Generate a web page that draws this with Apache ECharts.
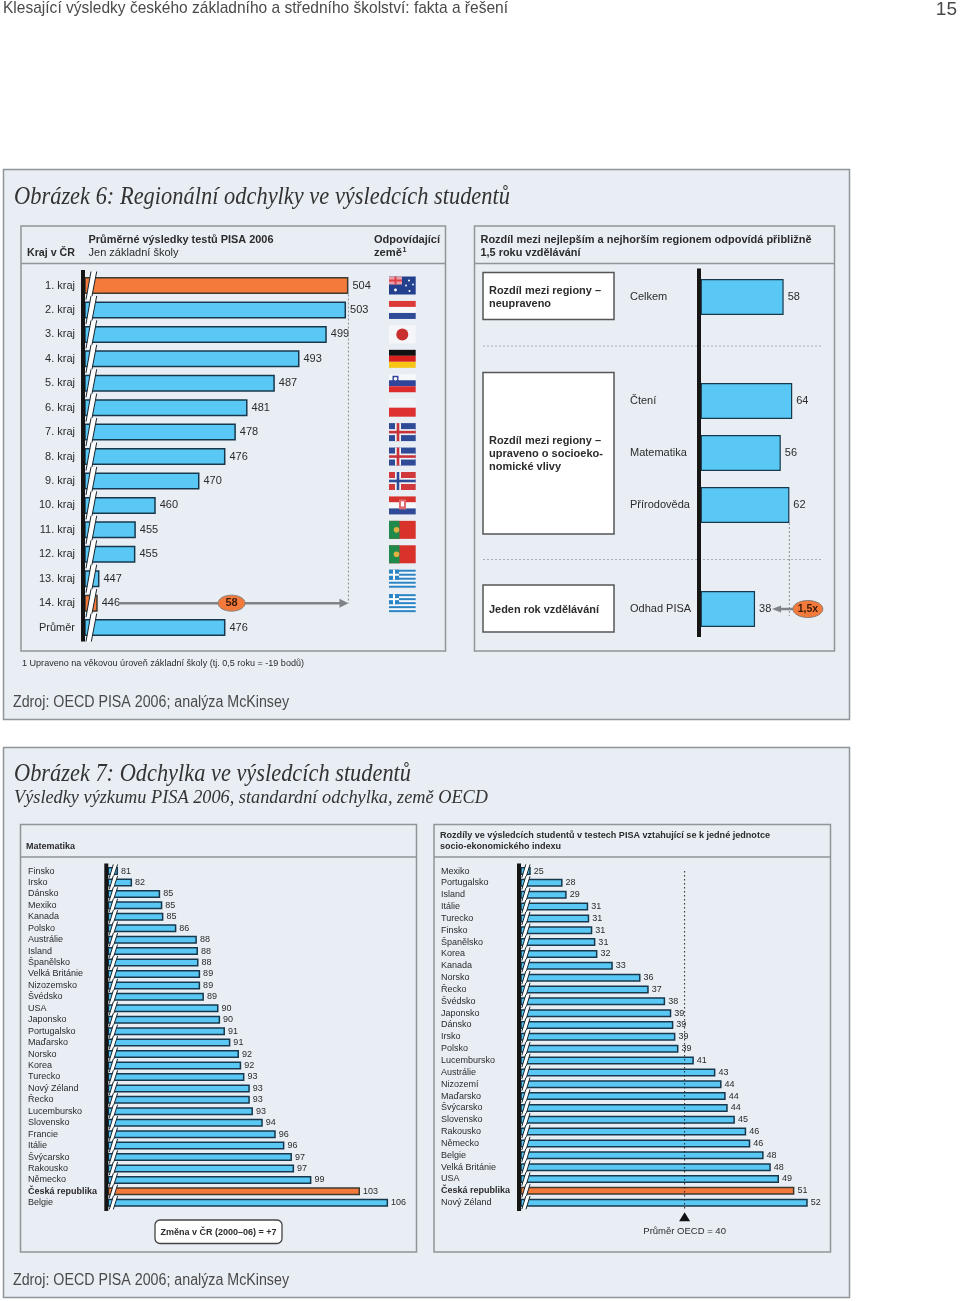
<!DOCTYPE html>
<html><head><meta charset="utf-8">
<style>html,body{margin:0;padding:0;background:#fff}#c{width:960px;height:1301px}</style>
<script src="https://cdn.jsdelivr.net/npm/echarts@6/dist/echarts.min.js"></script>
</head><body><div id="c"></div>
<script>
// ---- data ----
const regions = ['1. kraj','2. kraj','3. kraj','4. kraj','5. kraj','6. kraj','7. kraj','8. kraj','9. kraj','10. kraj','11. kraj','12. kraj','13. kraj','14. kraj','Průměr'];
const regionScores = [504,503.45,499,492.7,487,480.7,478,475.6,469.6,459.5,454.9,454.8,446.5,446.1,475.6];
const regionHighlights = ['1. kraj','14. kraj'];
const regionFlags = ['AU','NL','JP','DE','SI','PL','IS','IS','NO','HR','PT','PT','GR','GR',''];
const gapFrom = 446.1, gapTo = 504, gapLabel = '58';

const diffCats = ['Celkem',' ','Čtení','Matematika','Přírodověda','  ','Odhad PISA'];
const diffValues = [58,null,64,56,62,null,38];

const mathCats = ['Finsko','Irsko','Dánsko','Mexiko','Kanada','Polsko','Austrálie','Island','Španělsko','Velká Británie','Nizozemsko','Švédsko','USA','Japonsko','Portugalsko','Maďarsko','Norsko','Korea','Turecko','Nový Zéland','Řecko','Lucembursko','Slovensko','Francie','Itálie','Švýcarsko','Rakousko','Německo','Česká republika','Belgie'];
const mathValues = [81,82.3,84.9,85.1,85.2,86.4,88.3,88.4,88.45,88.6,88.6,88.95,90.3,90.45,90.9,91.4,92.2,92.4,92.7,93.2,93.2,93.49,94.4,95.6,96.4,97.1,97.3,98.9,103.4,106];

const socioCats = ['Mexiko','Portugalsko','Island','Itálie','Turecko','Finsko','Španělsko','Korea','Kanada','Norsko','Řecko','Švédsko','Japonsko','Dánsko','Irsko','Polsko','Lucembursko','Austrálie','Nizozemí','Maďarsko','Švýcarsko','Slovensko','Rakousko','Německo','Belgie','Velká Británie','USA','Česká republika','Nový Zéland'];
const socioValues = [25,28.1,28.5,30.6,30.7,31,31.3,31.5,33,35.7,36.5,38.1,38.7,38.9,39.1,39.4,40.9,43,43.6,44,44.2,44.9,46,46.4,47.7,48.4,49.2,50.7,52];
const oecdAverage = 40;
const boldCountry = 'Česká republika';

// ---- style ----
const BLUE='#5ac8f5', ORANGE='#f47a3c', EDGE='#17384c', DARK='#2b2b2b', PANEL='#e9eef4', FRAME='#8f9598', SANS='"Liberation Sans",Arial,sans-serif', SERIF='"Liberation Serif",serif';

const mc=document.createElement('canvas').getContext('2d');
function t(text,x,y,size,o){o=o||{};
  const font=(o.italic?'italic ':'')+(o.bold?'bold ':'')+size+'px '+(o.family||SANS);
  let sx=1; if(o.w){mc.font=font;sx=o.w/mc.measureText(text).width;}
  return {type:'text',x:x,y:y,scaleX:sx,z:5,silent:true,style:{text:text,font:font,fill:o.fill||DARK,textAlign:o.align||'left',textVerticalAlign:'middle',textBaseline:'middle'}};
}
function r(x,y,w,h,fill,stroke,lw,z,rad){return {type:'rect',z:z||1,silent:true,shape:{x:x,y:y,width:w,height:h,r:rad||0},style:{fill:fill,stroke:stroke||null,lineWidth:lw||0}};}
function l(x1,y1,x2,y2,stroke,lw,dash,z){return {type:'line',z:z||2,silent:true,shape:{x1:x1,y1:y1,x2:x2,y2:y2},style:{stroke:stroke,lineWidth:lw,lineDash:dash||null}};}

const elements=[
  t('Klesající výsledky českého základního a středního školství: fakta a řešení',3,8.5,17,{fill:'#4a4a4a',w:505}),
  t('15',957,10,19,{fill:'#4a4a4a',align:'right'}),
  // panel 6
  r(3.5,169.5,846,550,PANEL,FRAME,1.5,0),
  t('Obrázek 6: Regionální odchylky ve výsledcích studentů',14,197,25,{italic:true,family:SERIF,fill:'#333',w:496}),
  r(21,226,424.5,425,PANEL,FRAME,1.5,0), l(21,263.5,445.5,263.5,FRAME,1.5),
  r(474.5,226,360,425,PANEL,FRAME,1.5,0), l(474.5,263.5,834.5,263.5,FRAME,1.5),
  t('Kraj v ČR',27,252.5,11,{bold:true,w:48}),
  t('Průměrné výsledky testů PISA 2006',88.5,239.5,11,{bold:true,w:185}),
  t('Jen základní školy',88.5,252.5,11,{w:90}),
  t('Odpovídající',374,239.5,11,{bold:true,w:66}),
  t('země',374,252.5,11,{bold:true,w:28}),
  t('1',402.5,250.5,7,{bold:true}),
  t('Rozdíl mezi nejlepším a nejhorším regionem odpovídá přibližně',480.5,239.5,11,{bold:true,w:331}),
  t('1,5 roku vzdělávání',480.5,252.5,11,{bold:true,w:100}),
  r(483,272.5,131,47,'#fff','#555',1.5,1),
  r(483,372.5,131,161.5,'#fff','#555',1.5,1),
  r(483,585,131,47,'#fff','#555',1.5,1),
  t('Rozdíl mezi regiony –',489,290.5,11,{bold:true,w:112}),
  t('neupraveno',489,303.5,11,{bold:true,w:62}),
  t('Rozdíl mezi regiony –',489,441,11,{bold:true,w:112}),
  t('upraveno o socioeko-',489,454,11,{bold:true,w:114}),
  t('nomické vlivy',489,467,11,{bold:true,w:72}),
  t('Jeden rok vzdělávání',489,609.5,11,{bold:true,w:110}),
  l(483,346,822,346,'#a8aeb2',1,[2,2]),
  l(483,559.5,822,559.5,'#a8aeb2',1,[2,2]),
  t('1 Upraveno na věkovou úroveň základní školy (tj. 0,5 roku = -19 bodů)',22,663.5,9,{w:282}),
  t('Zdroj: OECD PISA 2006; analýza McKinsey',13,703,16,{fill:'#4a4a4a',w:276}),
  // panel 7
  r(3.5,747.5,846,550,PANEL,FRAME,1.5,0),
  t('Obrázek 7: Odchylka ve výsledcích studentů',14,774.5,25,{italic:true,family:SERIF,fill:'#333',w:397}),
  t('Výsledky výzkumu PISA 2006, standardní odchylka, země OECD',14,798,19,{italic:true,family:SERIF,fill:'#333',w:474}),
  r(20.5,824.5,396,427.5,PANEL,FRAME,1.5,0), l(20.5,857,416.5,857,FRAME,1.5),
  r(434,824.5,396.5,427.5,PANEL,FRAME,1.5,0), l(434,857,830.5,857,FRAME,1.5),
  t('Matematika',26,847,9,{bold:true,w:49}),
  t('Rozdíly ve výsledcích studentů v testech PISA vztahující se k jedné jednotce',440,836,9,{bold:true,w:330}),
  t('socio-ekonomického indexu',440,847,9,{bold:true,w:121}),
  r(155,1220,127,23.5,'#fff','#444',1.3,1,5),
  t('Změna v ČR (2000–06) = +7',218.5,1232.5,9,{bold:true,align:'center'}),
  t('Zdroj: OECD PISA 2006; analýza McKinsey',13,1281,16,{fill:'#4a4a4a',w:276}),
  // black axis lines
  r(81,270,4,371.5,'#151515',null,0,50),
  r(697,268.5,4,368.5,'#151515',null,0,50),
  r(104.3,863.5,4,347.5,'#151515',null,0,50),
  r(517,863.5,4,347.5,'#151515',null,0,50)
];

// ---- helpers for series ----
function bars(idx,vals,cats,hl,barWidth,fs,dist,lw){
  return {type:'bar',xAxisIndex:idx,yAxisIndex:idx,barWidth:barWidth,z:2,
    data:vals.map((v,i)=>v==null?null:({value:v,itemStyle:{color:hl.includes(cats[i])?ORANGE:BLUE,borderColor:hl.includes(cats[i])?'#3d3a30':EDGE,borderWidth:lw}})),
    label:{show:true,position:'right',distance:dist,fontFamily:SANS,fontSize:fs,color:DARK,formatter:p=>String(Math.round(p.value))}};
}
function breaks(idx,cats,g){
  return {type:'custom',xAxisIndex:idx,yAxisIndex:idx,z:3,silent:true,clip:false,encode:{x:0,y:1},
    data:cats.map((c,i)=>[0,i]),
    renderItem:(p,api)=>{
      const cs=p.coordSys, yc=api.coord([0,api.value(1)])[1], x=cs.x;
      const a=[x+g[0],yc+g[4]], b=[x+g[1],yc-g[4]], c2=[x+g[3],yc-g[4]], d=[x+g[2],yc+g[4]];
      const st={stroke:'#17242c',lineWidth:1};
      return {type:'group',children:[
        {type:'polygon',shape:{points:[a,b,c2,d]},style:{fill:'#fff',stroke:null}},
        {type:'line',shape:{x1:a[0],y1:a[1],x2:b[0],y2:b[1]},style:st},
        {type:'line',shape:{x1:d[0],y1:d[1],x2:c2[0],y2:c2[1]},style:st}]};
    }};
}
function flagShapes(code){
  const W=26.7,H=18,T=-9;
  const R=(x,y,w,h,c)=>({type:'rect',shape:{x:x,y:T+y,width:w,height:h},style:{fill:c}});
  const C=(x,y,rr,c)=>({type:'circle',shape:{cx:x,cy:T+y,r:rr},style:{fill:c}});
  const red='#d8322f',blue='#2f4a96',white='#f6f8fb';
  switch(code){
    case 'AU':return [R(0,0,W,H,'#23408e'),R(0,0,13,8,'#e8a0a8'),R(0,3,13,2,'#e0404a'),R(5.5,0,2,8,'#e0404a'),C(6.5,13.5,1.4,'#fff'),C(20,4,1,'#fff'),C(24,8,.9,'#fff'),C(17,9,.9,'#fff'),C(20.5,14.5,1,'#fff')];
    case 'NL':return [R(0,0,W,6,'#dc3a36'),R(0,6,W,6,white),R(0,12,W,6,blue)];
    case 'JP':return [R(0,0,W,H,'#f4f6f9'),C(13.3,9,6,'#c8302f')];
    case 'DE':return [R(0,0,W,6,'#111'),R(0,6,W,6,'#d8201f'),R(0,12,W,6,'#f6c516')];
    case 'SI':return [R(0,0,W,6,white),R(0,6,W,6,'#30459a'),R(0,12,W,6,'#dc2c2c'),R(3.5,1.5,6,7,'#30459a'),C(6.5,4.5,1.8,'#fff')];
    case 'PL':return [R(0,0,W,9,'#f0f3f7'),R(0,9,W,9,'#de3030')];
    case 'IS':return [R(0,0,W,H,'#2f4a96'),R(0,6,W,6,'#eef1f6'),R(6,0,6,H,'#eef1f6'),R(0,7.7,W,2.6,'#c8323a'),R(7.7,0,2.6,H,'#c8323a')];
    case 'NO':return [R(0,0,W,H,'#d0383c'),R(0,6,W,6,'#f2f3f7'),R(6,0,6,H,'#f2f3f7'),R(0,7.7,W,2.6,'#2f4a96'),R(7.7,0,2.6,H,'#2f4a96')];
    case 'HR':return [R(0,0,W,6,'#d8322f'),R(0,6,W,6,white),R(0,12,W,6,blue),R(10,3,7,10,'#e06a70'),R(12,5,3,5,'#fff')];
    case 'PT':return [R(0,0,W,H,'#d8322a'),R(0,0,10.5,H,'#1f8a4b'),C(7.5,9,2.8,'#e0b040')];
    case 'GR':{const b='#2b84c4',o=[R(0,0,W,H,'#f4f7fb')];for(let i=0;i<9;i+=2)o.push(R(0,i*2,W,2,b));o.push(R(0,0,10,10,b),R(4,0,2,10,'#fff'),R(0,4,10,2,'#fff'));return o;}
  }
  return [];
}
const rowsSeries={type:'custom',xAxisIndex:0,yAxisIndex:0,z:3,silent:true,clip:false,encode:{x:0,y:1},
  data:regionFlags.map((f,i)=>[0,i]),
  renderItem:(p,api)=>{const i=api.value(1),y=api.coord([0,i])[1],x=p.coordSys.x+304;
    return {type:'group',x:x,y:y,children:flagShapes(regionFlags[i])};}};

const gapSeries={type:'custom',xAxisIndex:0,yAxisIndex:0,z:4,silent:true,clip:false,encode:{x:0,y:1},
  data:[[gapTo,13]],
  renderItem:(p,api)=>{
    const end=api.coord([gapTo,13]), start=api.coord([gapFrom,13]), top=api.coord([gapTo,0]);
    const mid=(start[0]+end[0])/2+8.5, y=end[1];
    return {type:'group',children:[
      {type:'line',shape:{x1:end[0],y1:top[1]+9,x2:end[0],y2:y},style:{stroke:'#8a8f93',lineWidth:1,lineDash:[2,2]}},
      {type:'line',shape:{x1:start[0]+22,y1:y,x2:end[0]-8,y2:y},style:{stroke:'#808488',lineWidth:2.5}},
      {type:'polygon',shape:{points:[[end[0],y],[end[0]-9,y-4.5],[end[0]-9,y+4.5]]},style:{fill:'#808488'}},
      {type:'ellipse',shape:{cx:mid,cy:y,rx:13.5,ry:8},style:{fill:ORANGE,stroke:'#8a8076',lineWidth:1}},
      {type:'text',x:mid,y:y,style:{text:gapLabel,font:'bold 11px '+SANS,fill:'#3a1a08',textAlign:'center',textVerticalAlign:'middle'}}]};
  }};
const multSeries={type:'custom',xAxisIndex:1,yAxisIndex:1,z:4,silent:true,clip:false,encode:{x:0,y:1},
  data:[[62,6]],
  renderItem:(p,api)=>{
    const up=api.coord([62,4]), dn=api.coord([62,6]), base=api.coord([38,6]);
    const y=dn[1], ox=up[0]+18.5;
    return {type:'group',children:[
      {type:'line',shape:{x1:up[0],y1:up[1]+18,x2:up[0],y2:y+7},style:{stroke:'#8a8f93',lineWidth:1,lineDash:[2,2]}},
      {type:'line',shape:{x1:base[0]+24,y1:y,x2:up[0]+4,y2:y},style:{stroke:'#808488',lineWidth:2.5}},
      {type:'polygon',shape:{points:[[base[0]+17,y],[base[0]+26,y-3.5],[base[0]+26,y+3.5]]},style:{fill:'#808488'}},
      {type:'ellipse',shape:{cx:ox,cy:y,rx:15,ry:8.5},style:{fill:ORANGE,stroke:'#8a8076',lineWidth:1}},
      {type:'text',x:ox,y:y,style:{text:'1,5x',font:'bold 10.5px '+SANS,fill:'#3a1a08',textAlign:'center',textVerticalAlign:'middle'}}]};
  }};
const oecdSeries={type:'custom',xAxisIndex:3,yAxisIndex:3,z:4,silent:true,clip:false,encode:{x:0,y:1},
  data:[[oecdAverage,0]],
  renderItem:(p,api)=>{
    const a=api.coord([oecdAverage,0]), b=api.coord([oecdAverage,socioCats.length-1]);
    const x=a[0];
    return {type:'group',children:[
      {type:'line',shape:{x1:x,y1:a[1],x2:x,y2:b[1]+7},style:{stroke:'#222',lineWidth:1,lineDash:[1.5,2.5]}},
      {type:'polygon',shape:{points:[[x,b[1]+9.5],[x-5.5,b[1]+18.5],[x+5.5,b[1]+18.5]]},style:{fill:'#111'}},
      {type:'text',x:x,y:b[1]+28.5,style:{text:'Průměr OECD = '+oecdAverage,font:'9.5px '+SANS,fill:DARK,textAlign:'center',textVerticalAlign:'middle'}}]};
  }};

function yAx(i,cats,margin,fs,leftAlign){
  return {type:'category',gridIndex:i,data:cats,inverse:true,z:6,axisLine:{show:false},axisTick:{show:false},splitLine:{show:false},
    axisLabel:{show:true,interval:0,margin:margin,align:leftAlign?'left':'right',fontFamily:SANS,fontSize:fs,color:DARK,hideOverlap:false,
      formatter:v=>v===boldCountry?'{b|'+v+'}':'{n|'+v+'}',rich:{b:{fontWeight:'bold',fontFamily:SANS,fontSize:fs,color:DARK},n:{fontFamily:SANS,fontSize:fs,color:DARK}}}};
}
function xAx(i,min,max){return {type:'value',gridIndex:i,min:min,max:max,show:false,splitLine:{show:false}};}

const chart=echarts.init(document.getElementById('c'),null,{renderer:'canvas',width:960,height:1301});
chart.setOption({
  animation:false,backgroundColor:'#fff',
  graphic:{elements:elements},
  grid:[
    {left:85,top:273.3,width:289.4,height:366.5},
    {left:700.7,top:271,width:157.3,height:364},
    {left:108.3,top:865.3,width:323,height:343.2},
    {left:521,top:865.1,width:317.5,height:343.5}
  ],
  xAxis:[xAx(0,443.16,510),xAx(1,0,110),xAx(2,80.1,110),xAx(3,24.05,55)],
  yAxis:[yAx(0,regions,10,11,false),yAx(1,diffCats,70.7,11,true),yAx(2,mathCats,80.3,9,true),yAx(3,socioCats,80,9,true)],
  series:[
    bars(0,regionScores,regions,regionHighlights,17,11,4,1.5),
    breaks(0,regions,[1,6,6.3,11.7,14]),
    rowsSeries,gapSeries,
    bars(1,diffValues,diffCats,[],36,11,4,1.2),
    multSeries,
    bars(2,mathValues,mathCats,[boldCountry],8,9,3,1.5),
    breaks(2,mathCats,[1,5,5,9.3,6.6]),
    bars(3,socioValues,socioCats,[boldCountry],8,9,3,1.5),
    breaks(3,socioCats,[0.8,4.8,5,9,6.6]),
    oecdSeries
  ]
});
</script></body></html>
